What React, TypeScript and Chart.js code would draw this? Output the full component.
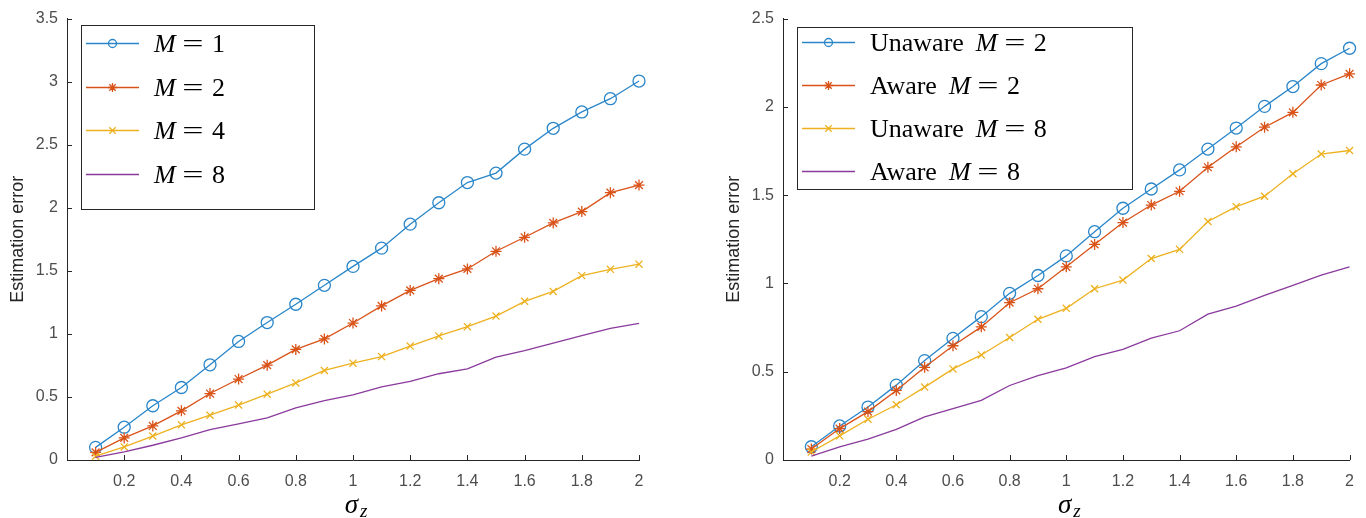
import React, { useEffect, useRef } from 'react';
import { Chart, registerables } from 'chart.js';

Chart.register(...registerables);

// ---------- data ----------
const sigma = [0.1, 0.2, 0.3, 0.4, 0.5, 0.6, 0.7, 0.8, 0.9, 1.0, 1.1, 1.2, 1.3, 1.4, 1.5, 1.6, 1.7, 1.8, 1.9, 2.0];
const xTicks = [0.2, 0.4, 0.6, 0.8, 1, 1.2, 1.4, 1.6, 1.8, 2];
const yTicksLeft = [0, 0.5, 1, 1.5, 2, 2.5, 3, 3.5];
const yTicksRight = [0, 0.5, 1, 1.5, 2, 2.5];

// left panel
const m1 = [0.10, 0.26, 0.43, 0.575, 0.755, 0.94, 1.09, 1.235, 1.385, 1.535, 1.68, 1.87, 2.04, 2.20, 2.275, 2.465, 2.63, 2.76, 2.865, 3.005];
const m2 = [0.06, 0.175, 0.27, 0.39, 0.527, 0.642, 0.752, 0.877, 0.96, 1.086, 1.222, 1.345, 1.438, 1.515, 1.655, 1.766, 1.88, 1.97, 2.12, 2.18];
const m4 = [0.03, 0.104, 0.19, 0.279, 0.355, 0.436, 0.522, 0.611, 0.71, 0.768, 0.82, 0.903, 0.984, 1.057, 1.141, 1.258, 1.337, 1.462, 1.512, 1.553];
const m8 = [0.02, 0.065, 0.117, 0.175, 0.24, 0.287, 0.334, 0.413, 0.47, 0.517, 0.58, 0.624, 0.684, 0.723, 0.815, 0.867, 0.927, 0.987, 1.044, 1.083];

// right panel
const unaware2 = [0.075, 0.193, 0.30, 0.424, 0.563, 0.689, 0.812, 0.944, 1.045, 1.156, 1.293, 1.426, 1.535, 1.643, 1.761, 1.88, 2.003, 2.115, 2.245, 2.332];
const aware2 = [0.062, 0.178, 0.274, 0.394, 0.525, 0.647, 0.754, 0.891, 0.97, 1.094, 1.221, 1.345, 1.444, 1.522, 1.658, 1.774, 1.885, 1.969, 2.124, 2.187];
const unaware8 = [0.045, 0.137, 0.231, 0.313, 0.413, 0.516, 0.595, 0.694, 0.797, 0.859, 0.97, 1.019, 1.141, 1.193, 1.351, 1.435, 1.494, 1.621, 1.733, 1.753];
const aware8 = [0.0225, 0.075, 0.118, 0.173, 0.244, 0.291, 0.338, 0.422, 0.478, 0.522, 0.585, 0.627, 0.69, 0.732, 0.826, 0.872, 0.932, 0.989, 1.047, 1.094];

const leftPrefixes = ['', '', '', ''];
const leftMValues = ['1', '2', '4', '8'];
const rightPrefixes = ['Unaware', 'Aware', 'Unaware', 'Aware'];
const rightMValues = ['2', '2', '8', '8'];

const yTitle = 'Estimation error';

// ---------- styles ----------
const BLUE = '#2a86c9';
const ORANGE = '#d95319';
const YELLOW = '#edb120';
const PURPLE = '#8a3a9c';
const SANS = "'Liberation Sans', Arial, sans-serif";
const SERIF = "'Liberation Serif', 'Times New Roman', serif";
const W = 683;
const H = 518;

type Marker = 'circle' | 'star' | 'crossRot' | 'none';
type Series = { data: number[]; color: string; marker: Marker; radius: number; prefix: string; mval: string };
type PanelCfg = {
  series: Series[];
  yMax: number;
  yTicks: number[];
  axisLeft: number;
  areaRight: number;
  areaTop: number;
  areaBottom: number;
  legend: { left: number; right: number; top: number; bottom: number; firstBaseline: number; step: number };
};

const fmt = (v: number) => String(Math.round(v * 10) / 10);

function drawMarker(ctx: CanvasRenderingContext2D, m: Marker, x: number, y: number, r: number) {
  if (m === 'none') return;
  ctx.beginPath();
  if (m === 'circle') {
    ctx.arc(x, y, r, 0, Math.PI * 2);
  } else {
    const d = r * Math.SQRT1_2;
    ctx.moveTo(x - d, y - d); ctx.lineTo(x + d, y + d);
    ctx.moveTo(x - d, y + d); ctx.lineTo(x + d, y - d);
    if (m === 'star') {
      ctx.moveTo(x - r, y); ctx.lineTo(x + r, y);
      ctx.moveTo(x, y - r); ctx.lineTo(x, y + r);
    }
  }
  ctx.stroke();
}

function makeOverlay(p: PanelCfg) {
  return {
    id: 'overlay',
    afterDraw(chart: any) {
      const ctx: CanvasRenderingContext2D = chart.ctx;
      const { left, right, top, bottom } = chart.chartArea;
      const xs = chart.scales.x;
      const ys = chart.scales.y;
      ctx.save();
      // inward tick marks
      ctx.strokeStyle = '#262626';
      ctx.lineWidth = 1;
      ctx.beginPath();
      xTicks.forEach((v) => {
        const px = Math.round(xs.getPixelForValue(v)) + 0.5;
        ctx.moveTo(px, bottom);
        ctx.lineTo(px, bottom - 5);
      });
      p.yTicks.forEach((v) => {
        const py = Math.round(ys.getPixelForValue(v)) + 0.5;
        ctx.moveTo(left, py);
        ctx.lineTo(left + 5, py);
      });
      ctx.stroke();

      // y axis title
      ctx.save();
      ctx.translate(left - 49, (top + bottom) / 2);
      ctx.rotate(-Math.PI / 2);
      ctx.font = `18px ${SANS}`;
      ctx.fillStyle = '#262626';
      ctx.textAlign = 'center';
      ctx.textBaseline = 'middle';
      ctx.fillText(yTitle, 0, 0);
      ctx.restore();

      // x axis title sigma_z
      ctx.fillStyle = '#000';
      ctx.textBaseline = 'alphabetic';
      ctx.textAlign = 'left';
      ctx.font = `italic 27px ${SERIF}`;
      const sw = ctx.measureText('σ').width;
      ctx.font = `italic 19px ${SERIF}`;
      const zw = ctx.measureText('z').width;
      const total = sw + 2 + zw;
      const sx = (left + right) / 2 + 3 - total / 2;
      ctx.font = `italic 27px ${SERIF}`;
      ctx.fillText('σ', sx, 513);
      ctx.font = `italic 19px ${SERIF}`;
      ctx.fillText('z', sx + sw + 2, 517);

      // legend
      const L = p.legend;
      ctx.fillStyle = '#fff';
      ctx.fillRect(L.left, L.top, L.right - L.left, L.bottom - L.top);
      ctx.strokeStyle = '#262626';
      ctx.lineWidth = 1;
      ctx.strokeRect(L.left + 0.5, L.top + 0.5, L.right - L.left, L.bottom - L.top);
      p.series.forEach((s, i) => {
        const base = L.firstBaseline + i * L.step;
        const ly = Math.round(base - 9) + 0.5;
        ctx.strokeStyle = s.color;
        ctx.lineWidth = 1.3;
        ctx.beginPath();
        ctx.moveTo(L.left + 5, ly);
        ctx.lineTo(L.left + 58, ly);
        ctx.stroke();
        drawMarker(ctx, s.marker, L.left + 31.5, ly, s.marker === 'circle' ? 4 : 4.5);
        ctx.fillStyle = '#000';
        ctx.textAlign = 'left';
        let tx = L.left + 73;
        if (s.prefix) {
          ctx.font = `26px ${SERIF}`;
          ctx.fillText(s.prefix, tx, base);
          tx += ctx.measureText(s.prefix).width + 12;
        }
        ctx.font = `italic 26px ${SERIF}`;
        ctx.fillText('M', tx, base);
        // wide, thin math "=" : Liberation Serif glyph stretched horizontally
        ctx.save();
        ctx.font = `26px ${SERIF}`;
        ctx.textAlign = 'center';
        ctx.translate(tx + 39, base);
        ctx.scale(1.45, 1);
        ctx.fillText('=', 0, 0);
        ctx.restore();
        ctx.textAlign = 'left';
        ctx.font = `26px ${SERIF}`;
        ctx.fillText(s.mval, tx + 58, base);
      });
      ctx.restore();
    },
  };
}

function buildConfig(p: PanelCfg): any {
  const n = p.series.length;
  return {
    type: 'line',
    data: {
      datasets: p.series.map((s, i) => ({
        data: sigma.map((x, k) => ({ x, y: s.data[k] })),
        borderColor: s.color,
        backgroundColor: s.color,
        borderWidth: 1.3,
        tension: 0,
        fill: false,
        clip: false,
        order: n - i,
        pointStyle: s.marker === 'none' ? 'circle' : s.marker,
        pointRadius: s.marker === 'none' ? 0 : s.radius,
        pointHoverRadius: 0,
        pointBorderColor: s.color,
        pointBackgroundColor: 'rgba(0,0,0,0)',
        pointBorderWidth: 1.3,
      })),
    },
    options: {
      responsive: false,
      animation: false,
      events: [],
      layout: { padding: { left: 0, top: p.areaTop, right: W - p.areaRight, bottom: 0 } },
      plugins: { legend: { display: false }, tooltip: { enabled: false }, title: { display: false } },
      scales: {
        x: {
          type: 'linear',
          position: 'bottom',
          min: 0,
          max: 2,
          afterBuildTicks: (s: any) => { s.ticks = xTicks.map((v) => ({ value: v })); },
          afterFit: (s: any) => { s.height = H - p.areaBottom; },
          grid: { display: false, drawTicks: false },
          border: { display: true, color: '#262626', width: 1 },
          ticks: {
            font: { family: SANS, size: 16 },
            color: '#4d4d4d',
            padding: 12,
            maxRotation: 0,
            autoSkip: false,
            callback: (v: number) => fmt(v),
          },
        },
        y: {
          type: 'linear',
          position: 'left',
          min: 0,
          max: p.yMax,
          afterBuildTicks: (s: any) => { s.ticks = p.yTicks.map((v) => ({ value: v })); },
          afterFit: (s: any) => { s.width = p.axisLeft; },
          grid: { display: false, drawTicks: false },
          border: { display: true, color: '#262626', width: 1 },
          ticks: {
            font: { family: SANS, size: 16 },
            color: '#4d4d4d',
            padding: 9,
            autoSkip: false,
            callback: (v: number) => fmt(v),
          },
        },
      },
    },
    plugins: [makeOverlay(p)],
  };
}

const leftPanel: PanelCfg = {
  series: [
    { data: m1, color: BLUE, marker: 'circle', radius: 6, prefix: leftPrefixes[0], mval: leftMValues[0] },
    { data: m2, color: ORANGE, marker: 'star', radius: 5.5, prefix: leftPrefixes[1], mval: leftMValues[1] },
    { data: m4, color: YELLOW, marker: 'crossRot', radius: 5, prefix: leftPrefixes[2], mval: leftMValues[2] },
    { data: m8, color: PURPLE, marker: 'none', radius: 0, prefix: leftPrefixes[3], mval: leftMValues[3] },
  ],
  yMax: 3.5,
  yTicks: yTicksLeft,
  axisLeft: 67,
  areaRight: 639,
  areaTop: 13,
  areaBottom: 460,
  legend: { left: 81, right: 314, top: 25, bottom: 209, firstBaseline: 52, step: 43.7 },
};

const rightPanel: PanelCfg = {
  series: [
    { data: unaware2, color: BLUE, marker: 'circle', radius: 6, prefix: rightPrefixes[0], mval: rightMValues[0] },
    { data: aware2, color: ORANGE, marker: 'star', radius: 5.5, prefix: rightPrefixes[1], mval: rightMValues[1] },
    { data: unaware8, color: YELLOW, marker: 'crossRot', radius: 5, prefix: rightPrefixes[2], mval: rightMValues[2] },
    { data: aware8, color: PURPLE, marker: 'none', radius: 0, prefix: rightPrefixes[3], mval: rightMValues[3] },
  ],
  yMax: 2.5,
  yTicks: yTicksRight,
  axisLeft: 100,
  areaRight: 670,
  areaTop: 13,
  areaBottom: 460,
  legend: { left: 114, right: 449, top: 27, bottom: 189, firstBaseline: 51, step: 43 },
};

function ChartPanel({ cfg }: { cfg: PanelCfg }) {
  const ref = useRef<HTMLCanvasElement | null>(null);
  useEffect(() => {
    if (!ref.current) return;
    const chart = new Chart(ref.current, buildConfig(cfg));
    return () => chart.destroy();
  }, [cfg]);
  return <canvas ref={ref} width={W} height={H} style={{ display: 'block', width: W, height: H }} />;
}

export default function App() {
  return (
    <div style={{ position: 'fixed', left: 0, top: 0, width: 1366, height: 518, background: '#fff', display: 'flex' }}>
      <ChartPanel cfg={leftPanel} />
      <ChartPanel cfg={rightPanel} />
    </div>
  );
}
